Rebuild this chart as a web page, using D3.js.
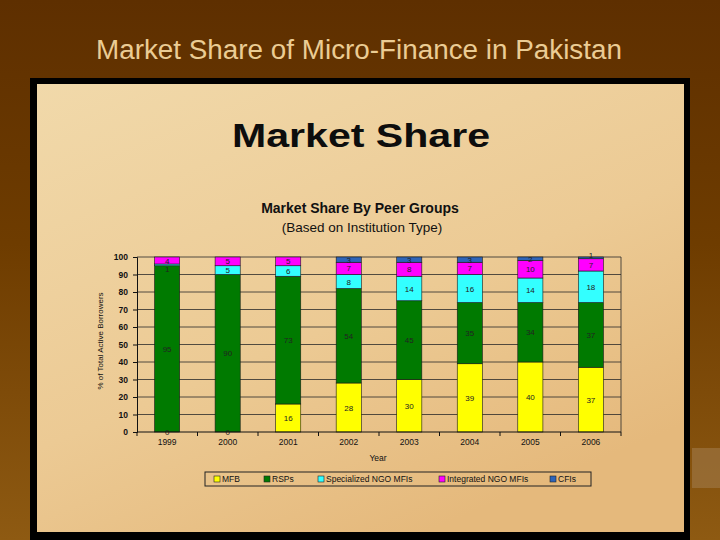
<!DOCTYPE html>
<html><head><meta charset="utf-8">
<script src="https://cdn.jsdelivr.net/npm/d3@7"></script>
<style>html,body{margin:0;padding:0;background:#663300;}svg{display:block;}</style>
</head><body>
<svg id="c" width="720" height="540"></svg>
<script>
const years = ["1999","2000","2001","2002","2003","2004","2005","2006"];
const seriesNames = ["MFB","RSPs","Specialized NGO MFIs","Integrated NGO MFIs","CFIs"];
const mfb   = [0, 0, 16, 28, 30, 39, 40, 37];
const rsps  = [95, 90, 73, 54, 45, 35, 34, 37];
const spec  = [1, 5, 6, 8, 14, 16, 14, 18];
const integ = [4, 5, 5, 7, 8, 7, 10, 7];
const cfis  = [null, null, null, 3, 3, 3, 2, 1];
const yTicks = [0,10,20,30,40,50,60,70,80,90,100];
const colors = ["#ffff00","#007a00","#33ffff","#ff00ff","#2e64b8"];

const svg = d3.select("#c");
const defs = svg.append("defs");
const bg = defs.append("linearGradient").attr("id","bg").attr("x1",0).attr("y1",0).attr("x2",0).attr("y2",1);
bg.append("stop").attr("offset","0%").attr("stop-color","#5e2f00");
bg.append("stop").attr("offset","45%").attr("stop-color","#6e3c00");
bg.append("stop").attr("offset","100%").attr("stop-color","#8e5a12");
const pg = defs.append("linearGradient").attr("id","pg").attr("x1",0).attr("y1",0).attr("x2",0.6).attr("y2",1);
pg.append("stop").attr("offset","0%").attr("stop-color","#f1d9aa");
pg.append("stop").attr("offset","60%").attr("stop-color","#ecca94");
pg.append("stop").attr("offset","100%").attr("stop-color","#e5b97c");

svg.append("rect").attr("width",720).attr("height",540).attr("fill","url(#bg)");
svg.append("rect").attr("x",692).attr("y",448).attr("width",28).attr("height",40).attr("fill","#a07a4a").attr("opacity",0.6);

svg.append("text").attr("x",359).attr("y",59).attr("text-anchor","middle")
  .attr("font-family","Liberation Sans, Arial, sans-serif").attr("font-size",27)
  .attr("fill","#ebcc94").attr("textLength",526).attr("lengthAdjust","spacingAndGlyphs")
  .text("Market Share of Micro-Finance in Pakistan");

svg.append("rect").attr("x",30).attr("y",78).attr("width",660).attr("height",462).attr("fill","#000");
svg.append("rect").attr("x",37).attr("y",84).attr("width",647).attr("height",448).attr("fill","url(#pg)");

svg.append("text").attr("x",361).attr("y",147).attr("text-anchor","middle")
  .attr("font-family","Liberation Sans, Arial, sans-serif").attr("font-size",34).attr("font-weight","bold")
  .attr("fill","#0d0d0d").attr("textLength",258).attr("lengthAdjust","spacingAndGlyphs")
  .text("Market Share");

svg.append("text").attr("x",360).attr("y",213).attr("text-anchor","middle")
  .attr("font-family","Liberation Sans, Arial, sans-serif").attr("font-size",14).attr("font-weight","bold")
  .attr("fill","#111").text("Market Share By Peer Groups");
svg.append("text").attr("x",362).attr("y",232).attr("text-anchor","middle")
  .attr("font-family","Liberation Sans, Arial, sans-serif").attr("font-size",13.5)
  .attr("fill","#111").text("(Based on Institution Type)");

const L = 137, R = 621, T = 257, B = 432;
const x = d3.scaleBand().domain(years).range([L,R]).paddingInner(0.585).paddingOuter(0.29);
const y = d3.scaleLinear().domain([0,100]).range([B,T]);

const g = svg.append("g");
// gridlines
g.selectAll("line.grid").data(yTicks.filter(t=>t>0)).join("line")
  .attr("x1",L).attr("x2",R).attr("y1",d=>y(d)).attr("y2",d=>y(d))
  .attr("stroke","#2a2a2a").attr("stroke-width",0.8);
g.append("line").attr("x1",R).attr("x2",R).attr("y1",T).attr("y2",B).attr("stroke","#2a2a2a").attr("stroke-width",0.8);

const allSeries = [mfb, rsps, spec, integ, cfis];
const table = years.map((yr,i)=>{ const o={year:yr}; seriesNames.forEach((s,k)=>o[s]=allSeries[k][i]||0); return o; });
const stacked = d3.stack().keys(seriesNames)(table);

stacked.forEach((layer,k)=>{
  const lg = g.append("g");
  lg.selectAll("rect").data(layer).join("rect")
    .attr("x",d=>x(d.data.year)).attr("width",x.bandwidth())
    .attr("y",d=>y(d[1])).attr("height",d=>y(d[0])-y(d[1]))
    .attr("fill",colors[k]).attr("stroke","#1a1a1a").attr("stroke-width",0.6);
});
// labels; very thin (1-unit) segments get a small nudge away from their neighbour
stacked.forEach((layer,k)=>{
  g.append("g").selectAll("text").data(layer.filter((d,i)=>allSeries[k][i]!==null)).join("text")
    .attr("x",d=>x(d.data.year)+x.bandwidth()/2)
    .attr("y",d=>{
      let yy = y((d[0]+d[1])/2)+3;
      const v = d[1]-d[0];
      if (v > 0 && v <= 1) yy += (d[1] >= 100 ? -3 : 4);
      return yy;
    })
    .attr("text-anchor","middle").attr("font-family","Liberation Sans, Arial, sans-serif")
    .attr("font-size",8).attr("fill","#222")
    .text(d=>d[1]-d[0]);
});

// y axis
const ya = svg.append("g").attr("transform",`translate(${L},0)`)
  .call(d3.axisLeft(y).tickValues(yTicks).tickSize(4).tickPadding(5));
ya.select(".domain").attr("stroke","#111");
ya.selectAll("line").attr("stroke","#111");
ya.selectAll("text").attr("font-family","Liberation Sans, Arial, sans-serif").attr("font-size",8.5).attr("font-weight","bold").attr("fill","#111");

// x axis
const xa = svg.append("g").attr("transform",`translate(0,${B})`)
  .call(d3.axisBottom(x).tickSize(0).tickPadding(7));
xa.select(".domain").attr("stroke","#111").attr("d",`M${L},0H${R}`);
xa.selectAll("text").attr("font-family","Liberation Sans, Arial, sans-serif").attr("font-size",8.5).attr("fill","#111");
xa.selectAll("line.b").data(d3.range(years.length+1)).join("line").attr("class","b")
  .attr("x1",i=>L+(R-L)*i/years.length).attr("x2",i=>L+(R-L)*i/years.length)
  .attr("y1",0).attr("y2",4).attr("stroke","#111");

svg.append("text").attr("x",378).attr("y",461).attr("text-anchor","middle")
  .attr("font-family","Liberation Sans, Arial, sans-serif").attr("font-size",8.5).attr("fill","#111").text("Year");
svg.append("text").attr("transform","translate(103,341) rotate(-90)").attr("text-anchor","middle")
  .attr("font-family","Liberation Sans, Arial, sans-serif").attr("font-size",8).attr("fill","#111")
  .text("% of Total Active Borrowers");

// legend
svg.append("rect").attr("x",205).attr("y",472).attr("width",386).attr("height",14)
  .attr("fill","none").attr("stroke","#222").attr("stroke-width",1);
const legX = [217,267,321,442,553];
const lgd = svg.append("g").selectAll("g").data(seriesNames).join("g")
  .attr("transform",(d,i)=>`translate(${legX[i]},479)`);
lgd.append("rect").attr("x",-3).attr("y",-3).attr("width",6).attr("height",6)
  .attr("fill",(d,i)=>colors[i]).attr("stroke","#222").attr("stroke-width",0.6);
lgd.append("text").attr("x",5).attr("y",3).attr("font-family","Liberation Sans, Arial, sans-serif")
  .attr("font-size",8.5).attr("fill","#111").text(d=>d);
</script>
</body></html>
